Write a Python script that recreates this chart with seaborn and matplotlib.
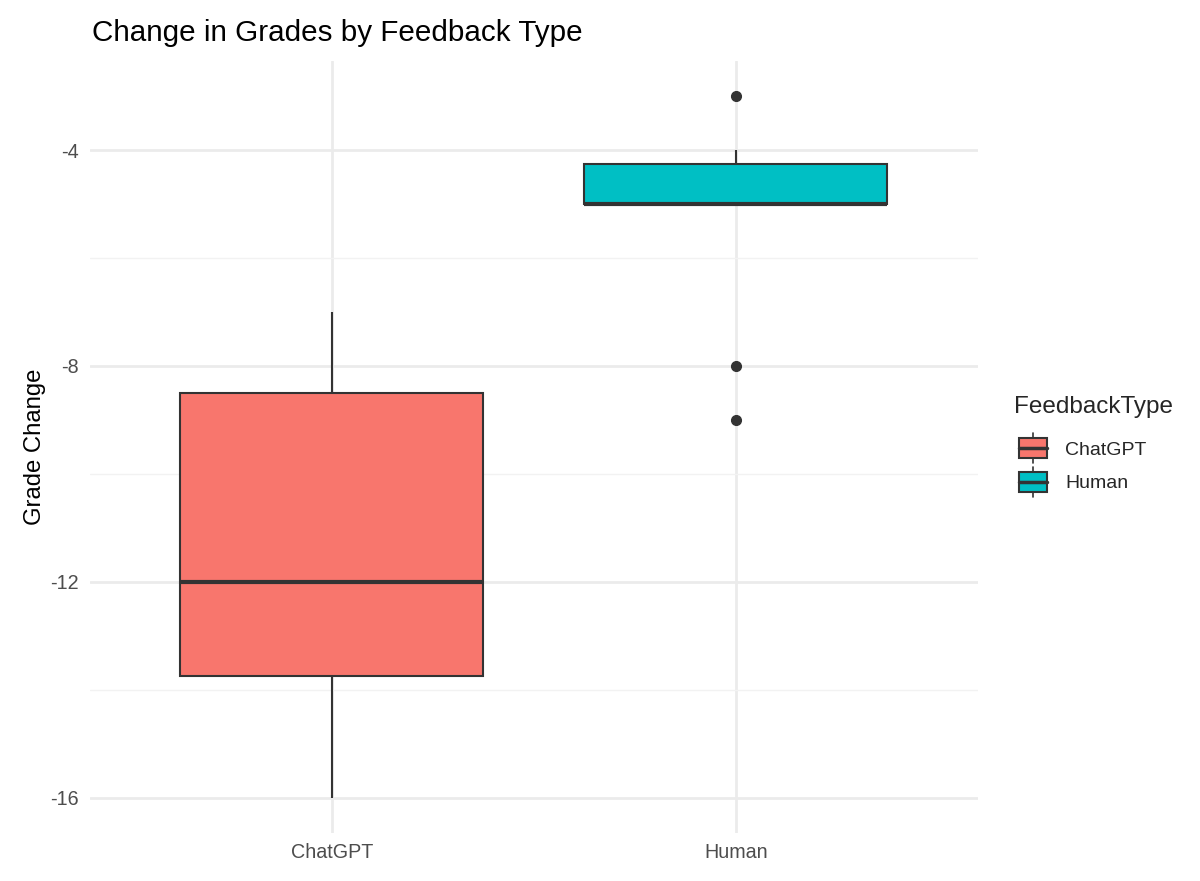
import numpy as np
import pandas as pd
import matplotlib
matplotlib.use("Agg")
import matplotlib.pyplot as plt
from matplotlib.patches import Rectangle, Patch
from matplotlib.lines import Line2D
from matplotlib.legend_handler import HandlerBase
from matplotlib.ticker import FixedLocator
import seaborn as sns

# ---- data ----
chatgpt_changes = [-16, -16, -13, -12, -12, -9, -7, -7]
human_changes = [-9, -8, -5, -5, -5, -5, -5, -4, -4, -3]
categories = ["ChatGPT", "Human"]
colors = ["#F8766D", "#00BFC4"]
y_major_ticks = [-16, -12, -8, -4]
y_minor_ticks = [-14, -10, -6]

df = pd.DataFrame({
    "FeedbackType": ["ChatGPT"] * len(chatgpt_changes) + ["Human"] * len(human_changes),
    "GradeChange": chatgpt_changes + human_changes,
})

sns.set_theme(style="whitegrid")
plt.rcParams["font.family"] = ["Liberation Sans", "DejaVu Sans"]

fig = plt.figure(figsize=(12, 8.81), dpi=100)
ax = fig.add_axes([0.0747, 0.0545, 0.7403, 0.8763])
ax.set_axisbelow(True)

edge = "#333333"
sns.boxplot(
    data=df, x="FeedbackType", y="GradeChange", hue="FeedbackType",
    order=categories, hue_order=categories, palette=colors,
    saturation=1, width=0.75, linecolor=edge, linewidth=1.5,
    whis=1.5, legend=False, ax=ax, dodge=False,
    medianprops={"linewidth": 3, "color": edge},
    capprops={"linewidth": 0},
    whiskerprops={"linewidth": 1.5, "color": edge},
    flierprops={"marker": "o", "markerfacecolor": edge, "markeredgecolor": edge,
                "markersize": 7},
)

ax.set_xlim(-0.6, 1.6)
ax.set_ylim(-16.65, -2.35)
ax.yaxis.set_major_locator(FixedLocator(y_major_ticks))
ax.yaxis.set_minor_locator(FixedLocator(y_minor_ticks))
ax.set_yticklabels([str(t) for t in y_major_ticks])
ax.grid(which="major", color="#EBEBEB", linewidth=2.0)
ax.grid(which="minor", axis="y", color="#F2F2F2", linewidth=1.0)
ax.grid(which="minor", axis="x", visible=False)
for s in ax.spines.values():
    s.set_visible(False)
ax.set_facecolor("white")
ax.tick_params(axis="both", which="both", length=0, labelsize=14.2, labelcolor="#4D4D4D")
ax.tick_params(axis="y", pad=8)
ax.tick_params(axis="x", pad=7)
ax.set_xlabel("")
ax.set_ylabel("Grade Change", fontsize=17.2, color="black", labelpad=3)

fig.text(0.0767, 0.9625, "Change in Grades by Feedback Type", fontsize=21.3,
         ha="left", va="center", color="black")


class BoxKeyHandler(HandlerBase):
    def create_artists(self, legend, orig_handle, xdescent, ydescent,
                       width, height, fontsize, trans):
        x0, y0 = -xdescent + 3.6, -ydescent
        w = width - 0.7
        cx = x0 + w / 2
        cy = y0 + height / 2
        bh = 14.4   # box height in points
        wh = 21.6   # whisker total extent in points
        arts = [
            Line2D([cx, cx], [cy - wh / 2, cy + wh / 2], color=edge, lw=1.2, transform=trans),
            Rectangle((x0, cy - bh / 2), w, bh, facecolor=orig_handle.get_facecolor(),
                      edgecolor=edge, lw=1.5, transform=trans),
            Line2D([x0, x0 + w], [cy, cy], color=edge, lw=2.5, transform=trans),
        ]
        return arts


handles = [Patch(facecolor=c, label=l) for c, l in zip(colors, categories)]
leg = fig.legend(handles=handles, labels=categories, title="FeedbackType",
                 handler_map={Patch: BoxKeyHandler()},
                 loc="center left", bbox_to_anchor=(0.8447, 0.493), frameon=False,
                 fontsize=14, title_fontsize=17.5, handlelength=1.5,
                 handleheight=2.0, handletextpad=1.15, labelspacing=0.2,
                 borderaxespad=0, borderpad=0)
leg._legend_box.align = "left"
leg._legend_box.sep = 11

fig.savefig("out.png", dpi=100, facecolor="white")
